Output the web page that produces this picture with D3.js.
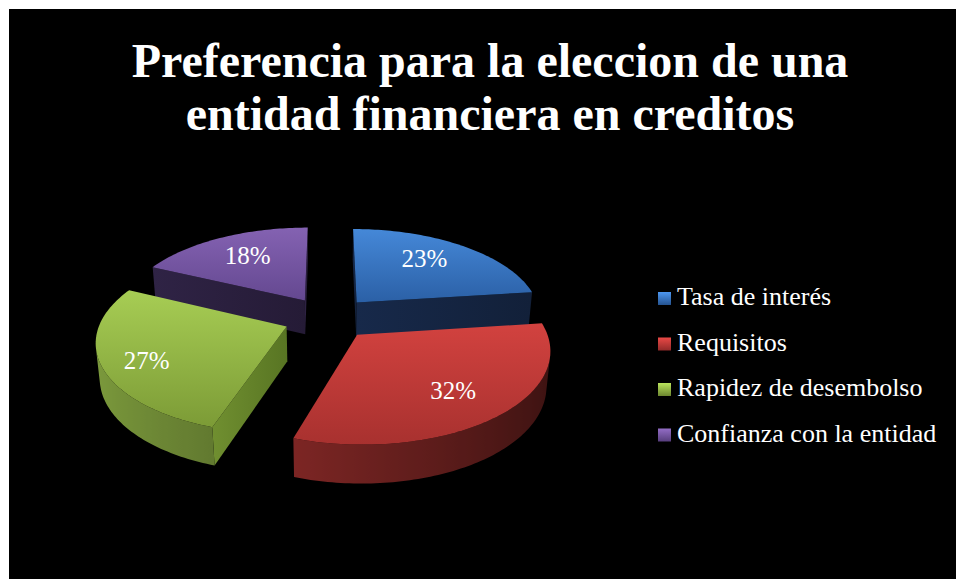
<!DOCTYPE html>
<html><head><meta charset="utf-8">
<script src="https://cdn.jsdelivr.net/npm/d3@7"></script>
<style>html,body{margin:0;padding:0;background:#fff;} svg{display:block;}</style>
</head><body>
<svg id="chart" width="956" height="579"></svg>
<script>
// ---- data ----
const categories = ["Tasa de interés", "Requisitos", "Rapidez de desembolso", "Confianza con la entidad"];
const values = [23, 32, 27, 18];
const pctLabels = ["23%", "32%", "27%", "18%"];
const titleLines = ["Preferencia para la eleccion de una", "entidad financiera en creditos"];

// ---- styles ----
const topColors = [["#4588d8", "#2b60a6"], ["#d2423f", "#a8312f"], ["#a7cd54", "#7c9b36"], ["#8462b2", "#644890"]];
const sideBase = ["#2b5590", "#c63c39", "#9cc24c", "#7858a6"];
const radialColors = [["#17294a", "#122039"], ["#6a1f1d", "#4a1413"], ["#708f30", "#587523"], ["#2f2345", "#251b36"]];
const labelNudge = [[-4, -5], [7, 4], [-20, 9], [0, -2]];

const W = 956, H = 579;
const svg = d3.select("#chart");
svg.append("rect").attr("x", 9).attr("y", 9).attr("width", W - 9).attr("height", H - 9).attr("fill", "#000");

// title
const title = svg.append("text")
  .attr("font-family", "'Liberation Serif','Times New Roman',serif")
  .attr("font-weight", "bold").attr("font-size", 48).attr("fill", "#fff")
  .attr("text-anchor", "middle");
titleLines.forEach((t, i) => title.append("tspan").attr("x", 490).attr("y", 77 + i * 53).text(t));

// ---- 3D projection ----
const cam = { cx: 328, cy: 318, f: 1115, D: 6.02, phi: 28.5 * Math.PI / 180 };
const cP = Math.cos(cam.phi), sP = Math.sin(cam.phi);
function proj(X, Y, Z) {
  const v = Y * cP + Z * sP;
  const w = cam.D + Z * cP - Y * sP;
  return [cam.cx + cam.f * X / w, cam.cy - cam.f * v / w, w];
}
const camPos = [0, cam.D * sP, -cam.D * cP];
const thick = 0.215, explode = 0.24, labelR = 0.66;

const pie = d3.pie().sort(null).value(d => d)(values);

const slices = pie.map((p, i) => {
  const a0 = p.startAngle, a1 = p.endAngle, am = (a0 + a1) / 2;
  const ox = explode * Math.sin(am), oz = explode * Math.cos(am);
  const P = (a, r, y) => [ox + r * Math.sin(a), y, oz + r * Math.cos(a)];
  return { i, a0, a1, am, ox, oz, P };
});

function visible(pts3, n) {
  const c = pts3.reduce((s, p) => [s[0] + p[0] / pts3.length, s[1] + p[1] / pts3.length, s[2] + p[2] / pts3.length], [0, 0, 0]);
  const v = [camPos[0] - c[0], camPos[1] - c[1], camPos[2] - c[2]];
  return v[0] * n[0] + v[1] * n[1] + v[2] * n[2] > 0;
}
const P2 = p => proj(p[0], p[1], p[2]);
const line = pts => "M" + pts.map(p => { const q = P2(p); return q[0].toFixed(2) + "," + q[1].toFixed(2); }).join("L") + "Z";
const meanW = pts => d3.mean(pts, p => P2(p)[2]);

const defs = svg.append("defs");
topColors.forEach((c, i) => {
  const g = defs.append("linearGradient").attr("id", "top" + i).attr("x1", 0).attr("y1", 0).attr("x2", 0).attr("y2", 1);
  g.append("stop").attr("offset", "0%").attr("stop-color", c[0]);
  g.append("stop").attr("offset", "100%").attr("stop-color", c[1]);
  const r = defs.append("linearGradient").attr("id", "rad" + i).attr("x1", 0).attr("y1", 0).attr("x2", 1).attr("y2", 0);
  r.append("stop").attr("offset", "0%").attr("stop-color", radialColors[i][0]);
  r.append("stop").attr("offset", "100%").attr("stop-color", radialColors[i][1]);
  const l = defs.append("linearGradient").attr("id", "leg" + i).attr("x1", 0).attr("y1", 0).attr("x2", 0).attr("y2", 1);
  l.append("stop").attr("offset", "0%").attr("stop-color", d3.color(c[0]).brighter(0.3));
  l.append("stop").attr("offset", "100%").attr("stop-color", d3.color(c[1]).darker(0.4));
});

const gPie = svg.append("g");
const order = slices.slice().sort((a, b) => P2([b.ox, 0, b.oz])[2] - P2([a.ox, 0, a.oz])[2]);
order.forEach(s => {
  const g = gPie.append("g");
  const faces = [];
  [[s.a0, -1], [s.a1, 1]].forEach(([a, sg]) => {
    const pts = [s.P(a, 0, 0), s.P(a, 1, 0), s.P(a, 1, -thick), s.P(a, 0, -thick)];
    const n = [sg * Math.cos(a), 0, -sg * Math.sin(a)];
    if (visible(pts, n)) faces.push({ d: line(pts), fill: `url(#rad${s.i})`, w: meanW(pts) });
  });
  const N = Math.max(8, Math.ceil((s.a1 - s.a0) / 0.02));
  const vis = [];
  for (let k = 0; k < N; k++) {
    const t0 = s.a0 + (s.a1 - s.a0) * k / N, t1 = s.a0 + (s.a1 - s.a0) * (k + 1) / N, tm = (t0 + t1) / 2;
    const pts = [s.P(t0, 1, 0), s.P(t1, 1, 0), s.P(t1, 1, -thick), s.P(t0, 1, -thick)];
    if (visible(pts, [Math.sin(tm), 0, Math.cos(tm)])) vis.push({ t0, t1, tm, pts });
  }
  if (vis.length) {
    const angs = [vis[0].t0].concat(vis.map(v => v.t1));
    const topA = angs.map(a => s.P(a, 1, 0)), botA = angs.map(a => s.P(a, 1, -thick)).reverse();
    const xs = angs.map(a => P2(s.P(a, 1, 0))[0]);
    const x0 = d3.min(xs), x1 = d3.max(xs);
    const gid = "side" + s.i;
    const gr = defs.append("linearGradient").attr("id", gid).attr("gradientUnits", "userSpaceOnUse")
      .attr("x1", x0).attr("y1", 0).attr("x2", x1).attr("y2", 0);
    const base = d3.rgb(sideBase[s.i]);
    const stops = vis.map(v => {
      const fct = 0.55 + 0.25 * (-Math.sin(v.tm));
      return { off: (P2(s.P(v.tm, 1, 0))[0] - x0) / Math.max(1, x1 - x0), col: d3.rgb(base.r * fct, base.g * fct, base.b * fct).toString() };
    }).sort((a, b) => a.off - b.off);
    stops.forEach(st => gr.append("stop").attr("offset", Math.max(0, Math.min(1, st.off))).attr("stop-color", st.col));
    faces.push({ d: line(topA.concat(botA)), fill: `url(#${gid})`, w: meanW(topA) });
  }
  faces.sort((a, b) => b.w - a.w);
  faces.forEach(f => g.append("path").attr("d", f.d).attr("fill", f.fill));
  const topPts = [s.P(s.a0, 0, 0)];
  const M = Math.ceil((s.a1 - s.a0) / 0.02);
  for (let k = 0; k <= M; k++) topPts.push(s.P(s.a0 + (s.a1 - s.a0) * k / M, 1, 0));
  g.append("path").attr("d", line(topPts)).attr("fill", `url(#top${s.i})`);
});

// labels
slices.forEach(s => {
  const q = P2(s.P(s.am, labelR, 0));
  svg.append("text").attr("x", q[0] + labelNudge[s.i][0]).attr("y", q[1] + labelNudge[s.i][1]).attr("dy", "0.35em")
    .attr("text-anchor", "middle").attr("font-family", "'Liberation Serif','Times New Roman',serif")
    .attr("font-size", 25).attr("fill", "#fff").text(pctLabels[s.i]);
});

// legend
const leg = svg.append("g").attr("transform", "translate(658,305)");
categories.forEach((c, i) => {
  const row = leg.append("g").attr("transform", `translate(0,${i * 45.5})`);
  row.append("rect").attr("x", 0).attr("y", -13).attr("width", 13).attr("height", 13).attr("fill", `url(#leg${i})`);
  row.append("text").attr("x", 19).attr("y", 0).attr("font-family", "'Liberation Serif','Times New Roman',serif")
    .attr("font-size", 26).attr("fill", "#fff").text(c);
});
</script>
</body></html>
